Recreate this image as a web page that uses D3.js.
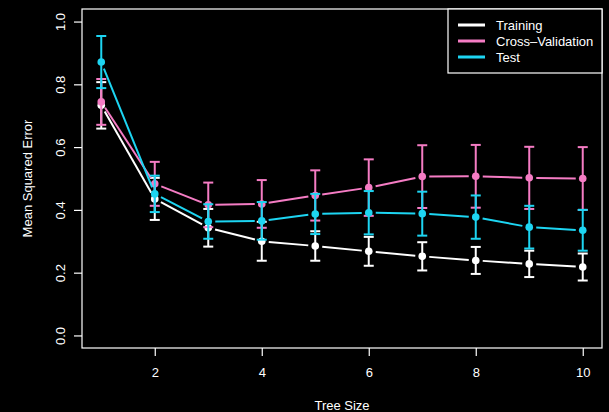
<!DOCTYPE html>
<html>
<head>
<meta charset="utf-8">
<script src="https://cdn.jsdelivr.net/npm/d3@7"></script>
<style>
  html, body { margin: 0; padding: 0; background: #000; }
  svg text { font-family: "Liberation Sans", Arial, sans-serif; fill: #fff; }
</style>
</head>
<body>
<div id="chart"></div>
<script>
// values
var treeSize = [1, 2, 3, 4, 5, 6, 7, 8, 9, 10];
var trainMse = [0.733, 0.435, 0.343, 0.300, 0.285, 0.268, 0.252, 0.239, 0.228, 0.218];
var trainSe  = [0.074, 0.067, 0.060, 0.062, 0.047, 0.046, 0.045, 0.043, 0.042, 0.043];
var cvMse    = [0.744, 0.483, 0.416, 0.419, 0.446, 0.471, 0.506, 0.507, 0.502, 0.500];
var cvSe     = [0.073, 0.070, 0.071, 0.076, 0.080, 0.090, 0.100, 0.100, 0.099, 0.100];
var testMse  = [0.871, 0.451, 0.363, 0.365, 0.387, 0.391, 0.388, 0.377, 0.345, 0.335];
var testSe   = [0.083, 0.058, 0.055, 0.060, 0.064, 0.069, 0.070, 0.069, 0.068, 0.065];
var seriesNames = ["Training", "Cross\u2013Validation", "Test"];
var xTicks = [2, 4, 6, 8, 10];
var yTicks = [0.0, 0.2, 0.4, 0.6, 0.8, 1.0];

function drawGraph() {
    var width = 609, height = 412;
    var plot = { left: 82, right: 602, top: 9, bottom: 348 };
    var colors = ["#ffffff", "#f57cc4", "#1dd5f2"];

    var svg = d3.select("#chart")
        .append("svg")
        .attr("width", width)
        .attr("height", height);

    svg.append("rect")
        .attr("width", width).attr("height", height)
        .attr("fill", "#000");

    var x = d3.scaleLinear().domain([0.64, 10.36]).range([plot.left, plot.right]);
    var y = d3.scaleLinear().domain([-0.04, 1.04]).range([plot.bottom, plot.top]);

    // axes, R style: ticks pointing outward, labels on y rotated
    var xAxis = svg.append("g")
        .attr("transform", "translate(0," + plot.bottom + ")")
        .call(d3.axisBottom(x).tickValues(xTicks).tickSize(8).tickPadding(12).tickFormat(d3.format("d")));
    xAxis.select(".domain").remove();
    xAxis.selectAll("line").attr("stroke", "#fff").attr("stroke-width", 1.2);
    xAxis.selectAll("text").attr("font-size", "13px").attr("fill", "#fff");

    var yAxis = svg.append("g")
        .attr("transform", "translate(" + plot.left + ",0)")
        .call(d3.axisLeft(y).tickValues(yTicks).tickSize(8).tickFormat(d3.format(".1f")));
    yAxis.select(".domain").remove();
    yAxis.selectAll("line").attr("stroke", "#fff").attr("stroke-width", 1.2);
    yAxis.selectAll("text")
        .attr("font-size", "13px")
        .attr("fill", "#fff")
        .attr("x", 0).attr("dy", 0)
        .attr("text-anchor", "middle")
        .attr("transform", "translate(-17,0) rotate(-90)");

    svg.append("rect")
        .attr("x", plot.left).attr("y", plot.top)
        .attr("width", plot.right - plot.left)
        .attr("height", plot.bottom - plot.top)
        .attr("fill", "none")
        .attr("stroke", "#fff")
        .attr("stroke-width", 1.2);

    svg.append("text")
        .attr("x", (plot.left + plot.right) / 2)
        .attr("y", 410)
        .attr("text-anchor", "middle")
        .attr("font-size", "13px")
        .text("Tree Size");

    svg.append("text")
        .attr("transform", "translate(31.5," + (plot.top + plot.bottom) / 2 + ") rotate(-90)")
        .attr("text-anchor", "middle")
        .attr("font-size", "13px")
        .text("Mean Squared Error");

    var series = [
        { mse: trainMse, se: trainSe },
        { mse: cvMse, se: cvSe },
        { mse: testMse, se: testSe }
    ];

    var gap = 7;   // type="b" gap around each point
    var cap = 5;

    series.forEach(function (s, i) {
        var g = svg.append("g");
        var pts = treeSize.map(function (t, j) { return [x(t), y(s.mse[j])]; });

        // line segments with gaps
        for (var j = 0; j < pts.length - 1; j++) {
            var a = pts[j], b = pts[j + 1];
            var dx = b[0] - a[0], dy = b[1] - a[1];
            var len = Math.sqrt(dx * dx + dy * dy);
            if (len <= 2 * gap) continue;
            var ux = dx / len, uy = dy / len;
            g.append("line")
                .attr("x1", a[0] + ux * gap).attr("y1", a[1] + uy * gap)
                .attr("x2", b[0] - ux * gap).attr("y2", b[1] - uy * gap)
                .attr("stroke", colors[i])
                .attr("stroke-width", 2);
        }

        // error bars
        treeSize.forEach(function (t, j) {
            var cx = x(t);
            var lo = y(s.mse[j] - s.se[j]), hi = y(s.mse[j] + s.se[j]);
            g.append("line")
                .attr("x1", cx).attr("x2", cx).attr("y1", lo).attr("y2", hi)
                .attr("stroke", colors[i]).attr("stroke-width", 2);
            [lo, hi].forEach(function (yy) {
                g.append("line")
                    .attr("x1", cx - cap).attr("x2", cx + cap)
                    .attr("y1", yy).attr("y2", yy)
                    .attr("stroke", colors[i]).attr("stroke-width", 2);
            });
        });

        g.selectAll("circle")
            .data(s.mse)
            .enter().append("circle")
            .attr("cx", function (d, j) { return x(treeSize[j]); })
            .attr("cy", function (d) { return y(d); })
            .attr("r", 3.8)
            .attr("fill", colors[i]);
    });

    // legend
    var lg = svg.append("g");
    lg.append("rect")
        .attr("x", 448).attr("y", plot.top)
        .attr("width", plot.right - 448).attr("height", 64)
        .attr("fill", "#000")
        .attr("stroke", "#fff")
        .attr("stroke-width", 1.2);
    seriesNames.forEach(function (name, i) {
        var ly = 25 + i * 16;
        lg.append("line")
            .attr("x1", 458).attr("x2", 485)
            .attr("y1", ly).attr("y2", ly)
            .attr("stroke", colors[i])
            .attr("stroke-width", 3);
        lg.append("text")
            .attr("x", 496).attr("y", ly)
            .attr("dy", "0.35em")
            .attr("font-size", "13px")
            .text(name);
    });
}

window.onload = drawGraph;
</script>
</body>
</html>
